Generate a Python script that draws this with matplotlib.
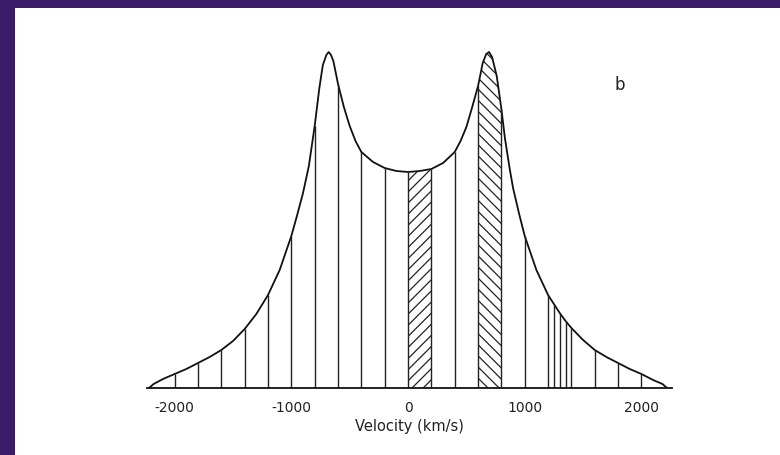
import numpy as np
import matplotlib.pyplot as plt
from matplotlib.patches import Rectangle

plt.rcParams['axes.unicode_minus'] = False
plt.rcParams['hatch.linewidth'] = 0.9

# line profile (velocity in km/s, intensity in arbitrary units)
curve_v = [-2220, -2180, -2100, -2000, -1900, -1800, -1700, -1600, -1500, -1400,
           -1300, -1200, -1100, -1000, -950, -900, -850, -800, -760, -730,
           -700, -680, -660, -640, -600, -550, -500, -450, -400, -300,
           -200, -100, 0, 100, 200, 300, 400, 450, 500, 550,
           600, 640, 670, 694, 720, 760, 800, 830, 870, 900,
           950, 1000, 1100, 1200, 1250, 1300, 1350, 1400, 1500, 1600,
           1700, 1800, 1900, 2000, 2100, 2180, 2220]
curve_h = [0, 4, 9, 14, 19, 25, 31, 38, 47, 59,
           74, 93, 118, 152, 173, 195, 222, 262, 300, 323,
           333, 336, 333, 327, 304, 281, 262, 247, 236, 226,
           220, 217, 216, 217, 219, 225, 236, 247, 261, 281,
           302, 325, 334, 336, 331, 312, 279, 250, 220, 200,
           175, 152, 118, 93, 84, 75, 67, 60, 48, 38,
           31, 25, 19, 14, 8, 4, 0]

# velocity bins drawn as vertical dividers
dividers = [-2000, -1800, -1600, -1400, -1200, -1000, -800, -600, -400, -200,
            0, 200, 400, 600, 800, 1000, 1200, 1250, 1300, 1350, 1400,
            1600, 1800, 2000]

# hatched bins
hatch_bins = [(0, 200, '///'), (600, 800, '\\\\\\')]

ticks = [-2000, -1000, 0, 1000, 2000]

fig = plt.figure(figsize=(7.8, 4.55), dpi=100, facecolor='#3b1b68')
fig.add_artist(Rectangle((15 / 780, 0), 1, 447 / 455, transform=fig.transFigure,
                         facecolor='white', edgecolor='none', zorder=-1))

ax = fig.add_axes([147 / 780, 67 / 455, 525 / 780, 348 / 455])
ax.set_facecolor('none')

ax.plot(curve_v, curve_h, color='#111111', lw=1.3, solid_joinstyle='round')

div_top = np.interp(dividers, curve_v, curve_h)
ax.vlines(dividers, 0, div_top, color='#222222', lw=1.0)

for lo, hi, pat in hatch_bins:
    xs = [v for v in curve_v if lo < v < hi]
    xs = [lo] + xs + [hi]
    ys = np.interp(xs, curve_v, curve_h)
    ax.fill_between(xs, 0, ys, facecolor='none', edgecolor='#222222',
                    linewidth=0, hatch=pat)

ax.set_xlim(-2237, 2262)
ax.set_ylim(0, 348)
ax.set_xticks(ticks)
ax.set_xticklabels([str(t) for t in ticks])
ax.set_yticks([])
for s in ['top', 'right', 'left']:
    ax.spines[s].set_visible(False)
ax.spines['bottom'].set_linewidth(1.3)
ax.spines['bottom'].set_color('#111111')
ax.tick_params(axis='x', length=0, pad=9, labelsize=10, labelcolor='#222222')
ax.set_xlabel('Velocity (km/s)', fontsize=10.5, color='#222222', labelpad=3)

ax.text(1817, 303, 'b', fontsize=12, color='#222222', ha='center', va='center')

fig.savefig('out.png', dpi=100, facecolor=fig.get_facecolor())
